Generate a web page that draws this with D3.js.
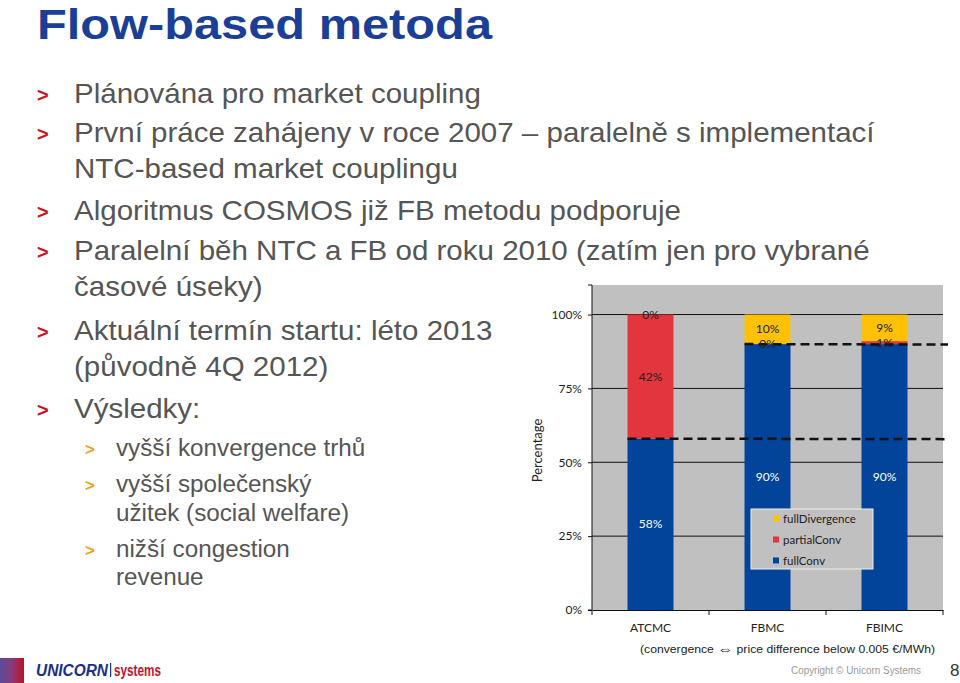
<!DOCTYPE html>
<html><head><meta charset="utf-8">
<script src="https://cdn.jsdelivr.net/npm/d3@7"></script>
<style>body{margin:0;background:#fff}svg{display:block}</style>
</head><body>
<script>
const categories = ["ATCMC", "FBMC", "FBIMC"];
const fullConv = [58, 90, 90];
const partialConv = [42, 0, 1];
const fullDivergence = [0, 10, 9];
const seriesNames = ["fullConv", "partialConv", "fullDivergence"];
const yTicks = [0, 25, 50, 75, 100];
const dashedLevels = [{from: "ATCMC", value: 58}, {from: "FBMC", value: 90}];

(function () {
const W = 960, H = 683;
const SX = 1.054; // slide is stretched horizontally
const svg = d3.select("body").append("svg").attr("width", W).attr("height", H);
svg.append("rect").attr("width", W).attr("height", H).attr("fill", "#fff");
const sans = "Liberation Sans, Arial, sans-serif";
function stretch(sel, k) {
  sel.each(function () {
    const l = this.getComputedTextLength();
    d3.select(this).attr("textLength", l * k).attr("lengthAdjust", "spacingAndGlyphs");
  });
}

// Title
svg.append("text").attr("x", 37).attr("y", 38.5).text("Flow-based metoda")
  .attr("font-family", sans).attr("font-weight", "bold")
  .attr("font-size", 42.5).attr("fill", "#1b3f97")
  .attr("textLength", 455).attr("lengthAdjust", "spacingAndGlyphs");

// Bullets
const bullets = [
  {lvl: 1, y: 103, t: "Plánována pro market coupling"},
  {lvl: 1, y: 142, t: "První práce zahájeny v roce 2007 – paralelně s implementací"},
  {lvl: 0, y: 178, t: "NTC-based market couplingu"},
  {lvl: 1, y: 220, t: "Algoritmus COSMOS již FB metodu podporuje"},
  {lvl: 1, y: 260, t: "Paralelní běh NTC a FB od roku 2010 (zatím jen pro vybrané"},
  {lvl: 0, y: 296, t: "časové úseky)"},
  {lvl: 1, y: 340, t: "Aktuální termín startu: léto 2013"},
  {lvl: 0, y: 376, t: "(původně 4Q 2012)"},
  {lvl: 1, y: 418, t: "Výsledky:"},
  {lvl: 2, y: 456, t: "vyšší konvergence trhů"},
  {lvl: 2, y: 492, t: "vyšší společenský"},
  {lvl: 3, y: 521, t: "užitek (social welfare)"},
  {lvl: 2, y: 557, t: "nižší congestion"},
  {lvl: 3, y: 585, t: "revenue"}
];
const bg = svg.append("g").attr("font-family", sans).attr("fill", "#555");
bullets.forEach(b => {
  const big = b.lvl <= 1;
  const tx = big ? 74 : 116;
  const t = bg.append("text").attr("x", tx).attr("y", b.y).attr("font-size", big ? 28 : 23).text(b.t);
  stretch(t, SX);
  if (b.lvl === 1) bg.append("text").attr("x", 37).attr("y", b.y - 1).attr("font-size", 20)
      .attr("font-weight", "bold").attr("fill", "#d0101a").text(">");
  if (b.lvl === 2) bg.append("text").attr("x", 85).attr("y", b.y - 1).attr("font-size", 17)
      .attr("font-weight", "bold").attr("fill", "#f0a020").text(">");
});

// Chart
const pL = 592, pR = 943, pT = 285, pB = 610;
const x = d3.scaleBand().domain(categories).range([pL, pR]).paddingInner(0.607).paddingOuter(0.3035);
const y = d3.scaleLinear().domain([0, 110]).range([pB, pT]);
const colors = {fullConv: "#01449a", partialConv: "#e2353d", fullDivergence: "#fec106"};
const cf = "Lato, 'Open Sans', sans-serif";

const chart = svg.append("g");
chart.append("rect").attr("x", pL).attr("y", pT).attr("width", pR - pL).attr("height", pB - pT).attr("fill", "#c0c0c0");

// grid
chart.selectAll("line.grid").data(yTicks.filter(d => d > 0)).join("line")
  .attr("x1", pL).attr("x2", pR).attr("y1", d => y(d)).attr("y2", d => y(d))
  .attr("stroke", "#111").attr("stroke-width", 1);

const table = categories.map((c, i) => ({cat: c, fullConv: fullConv[i], partialConv: partialConv[i], fullDivergence: fullDivergence[i]}));
const stack = d3.stack().keys(seriesNames)(table);

stack.forEach(s => {
  chart.append("g").selectAll("rect").data(s).join("rect")
    .attr("x", d => x(d.data.cat)).attr("width", x.bandwidth())
    .attr("y", d => y(d[1])).attr("height", d => y(d[0]) - y(d[1]))
    .attr("fill", colors[s.key]);
});

// dashed lines
dashedLevels.forEach(d => {
  chart.append("line").attr("x1", x(d.from)).attr("x2", pR + 5)
    .attr("y1", y(d.value)).attr("y2", y(d.value) + 0.5)
    .attr("stroke", "#111").attr("stroke-width", 2.5).attr("stroke-dasharray", "9,5");
});

// labels
stack.forEach(s => {
  chart.append("g").selectAll("text").data(s).join("text")
    .attr("x", d => x(d.data.cat) + x.bandwidth() / 2)
    .attr("y", d => y((d[0] + d[1]) / 2) + 4)
    .attr("text-anchor", "middle").attr("font-family", cf).attr("font-size", 12)
    .attr("fill", s.key === "fullConv" ? "#fff" : "#222")
    .text(d => (d[1] - d[0]) + "%");
});

// axes
const yAxis = d3.axisLeft(y).tickValues(yTicks).tickSize(4).tickFormat(d => d + "%");
const ya = chart.append("g").attr("transform", `translate(${pL},0)`).call(yAxis);
ya.select(".domain").attr("d", `M-4,${pT}H0V${pB}H-4`).attr("stroke", "#111");
ya.selectAll(".tick line").attr("stroke", "#111");
ya.selectAll(".tick text").attr("font-family", cf).attr("font-size", 12).attr("fill", "#222").attr("x", -10);

const xAxis = d3.axisBottom(x).tickSize(0);
const xa = chart.append("g").attr("transform", `translate(0,${pB})`).call(xAxis);
xa.select(".domain").attr("stroke", "#111");
xa.selectAll(".tick text").attr("font-family", cf).attr("font-size", 12).attr("fill", "#222").attr("dy", 0).attr("y", 22);
const bounds = [pL].concat(categories.map(c => x(c) + x.bandwidth() / 2 + x.step() / 2));
chart.selectAll("line.xt").data(bounds).join("line")
  .attr("x1", d => d).attr("x2", d => d).attr("y1", pB).attr("y2", pB + 5).attr("stroke", "#111");

// y title
chart.append("text").attr("transform", `translate(542,${(pT + pB) / 2 + 3}) rotate(-90)`)
  .attr("text-anchor", "middle").attr("font-family", cf).attr("font-size", 13).attr("fill", "#222").text("Percentage");

// legend
const lg = chart.append("g");
lg.append("rect").attr("x", 751).attr("y", 509).attr("width", 122).attr("height", 60)
  .attr("fill", "#c0c0c0").attr("stroke", "#eee").attr("stroke-width", 1);
const legendItems = ["fullDivergence", "partialConv", "fullConv"];
legendItems.forEach((k, i) => {
  const yy = 519 + i * 21;
  lg.append("rect").attr("x", 773).attr("y", yy - 3.5).attr("width", 6).attr("height", 6).attr("fill", colors[k]);
  lg.append("text").attr("x", 783).attr("y", yy + 4).attr("font-family", cf).attr("font-size", 11.5)
    .attr("fill", "#222").text(k);
});

// caption
const cap = svg.append("text").attr("x", 640).attr("y", 653).attr("font-family", sans)
  .attr("font-size", 11.5).attr("fill", "#222");
cap.append("tspan").text("(convergence ");
cap.append("tspan").attr("font-size", 15).attr("dy", 1).text("\u21D4");
cap.append("tspan").attr("dy", -1).text("  price difference below 0.005 \u20AC/MWh)");
cap.attr("textLength", 295).attr("lengthAdjust", "spacingAndGlyphs");

// footer
svg.append("text").attr("x", 791).attr("y", 674).attr("font-family", sans)
  .attr("font-size", 10).attr("fill", "#999").attr("textLength", 130).attr("lengthAdjust", "spacingAndGlyphs")
  .text("Copyright \u00A9 Unicorn Systems");
svg.append("text").attr("x", 950).attr("y", 676).attr("font-family", sans)
  .attr("font-size", 17).attr("fill", "#333").text("8");

// logo
const defs = svg.append("defs");
const gr = defs.append("linearGradient").attr("id", "lg1").attr("x1", 0).attr("x2", 1);
[["0%", "#5a4a9a"], ["50%", "#8a3a7a"], ["100%", "#c01020"]].forEach(s => gr.append("stop").attr("offset", s[0]).attr("stop-color", s[1]));
svg.append("rect").attr("x", 0).attr("y", 658).attr("width", 24).attr("height", 25).attr("fill", "url(#lg1)");
svg.append("text").attr("x", 36).attr("y", 676).attr("font-family", sans).attr("font-weight", "bold")
  .attr("font-style", "italic").attr("font-size", 16).attr("fill", "#1b2f8a")
  .attr("textLength", 72).attr("lengthAdjust", "spacingAndGlyphs").text("UNICORN");
svg.append("rect").attr("x", 110).attr("y", 663).attr("width", 1.2).attr("height", 14).attr("fill", "#1b2f8a");
svg.append("text").attr("x", 114).attr("y", 676).attr("font-family", sans).attr("font-weight", "bold")
  .attr("font-size", 17).attr("fill", "#c8102e")
  .attr("textLength", 47).attr("lengthAdjust", "spacingAndGlyphs").text("systems");
})();
</script>
</body></html>
